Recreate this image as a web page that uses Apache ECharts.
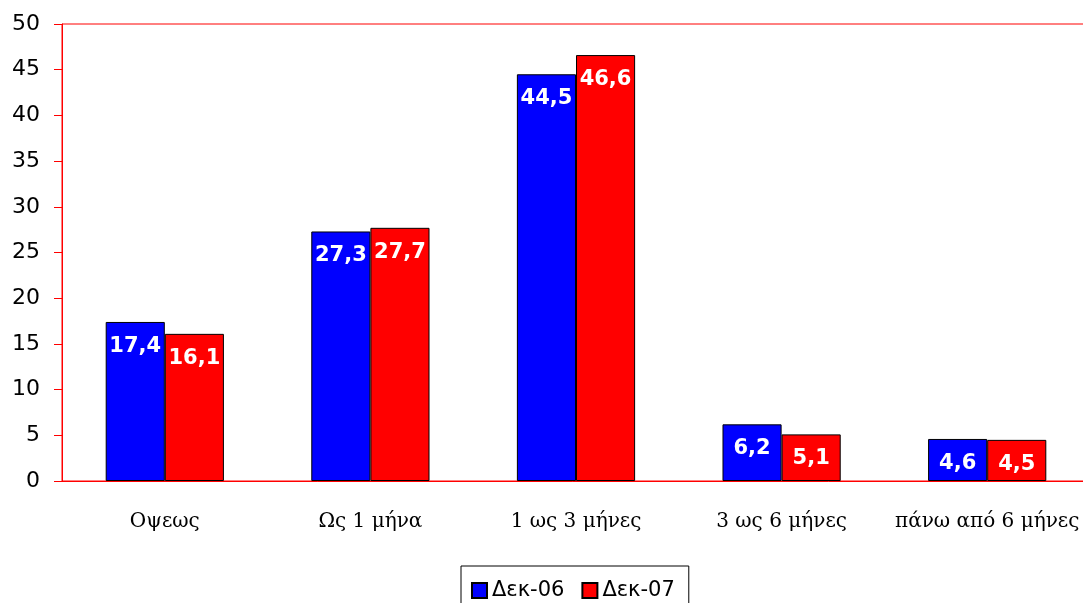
<!DOCTYPE html>
<html><head><meta charset="utf-8">
<script src="https://cdn.jsdelivr.net/npm/echarts@6/dist/echarts.min.js"></script>
<style>html,body{margin:0;padding:0;background:#fff;overflow:hidden}#c{width:1083px;height:603px}</style>
</head><body><div id="c"></div>
<script>
const categories = ['Οψεως', 'Ως 1 μήνα', '1 ως 3 μήνες', '3 ως 6 μήνες', 'πάνω από 6 μήνες'];
const dec06 = [17.4, 27.3, 44.5, 6.2, 4.6];
const dec07 = [16.1, 27.7, 46.6, 5.1, 4.5];
const seriesNames = ['Δεκ-06', 'Δεκ-07'];

const chart = echarts.init(document.getElementById('c'));
const lbl = {
  show: true, position: 'insideTop', distance: 14, color: '#fff', fontWeight: 'bold',
  fontSize: 21, fontFamily: 'DejaVu Sans',
  formatter: p => String(p.value).replace('.', ',')
};
chart.setOption({
  animation: false,
  grid: { left: 62, top: 24, width: 1028, bottom: 122, outerBoundsMode: 'none', containLabel: false,
          show: true, borderColor: '#ff0000', borderWidth: 1 },
  legend: {
    top: 566, left: 461, itemWidth: 15, itemHeight: 15, itemGap: 17,
    icon: 'rect',
    borderColor: '#000', borderWidth: 1, padding: [14, 14, 14, 10],
    textStyle: { fontFamily: 'DejaVu Sans', fontSize: 21, color: '#000' },
    data: seriesNames
  },
  xAxis: {
    type: 'category', data: categories,
    axisLine: { lineStyle: { color: '#ff0000' } },
    axisTick: { lineStyle: { color: '#ff0000' }, length: 8 },
    axisLabel: { color: '#000', fontFamily: 'DejaVu Serif', fontSize: 20, margin: 31, interval: 0, hideOverlap: false }
  },
  yAxis: {
    type: 'value', min: 0, max: 50, interval: 5,
    axisLine: { show: true, lineStyle: { color: '#ff0000' } },
    axisTick: { show: true, lineStyle: { color: '#ff0000' }, length: 8 },
    splitLine: { show: false },
    axisLabel: { color: '#000', fontFamily: 'DejaVu Sans', fontSize: 22, margin: 22 }
  },
  series: [
    { name: seriesNames[0], type: 'bar', data: dec06, barGap: '0%', barCategoryGap: '42.5%',
      itemStyle: { color: '#0000ff', borderColor: '#000', borderWidth: 1 }, label: lbl },
    { name: seriesNames[1], type: 'bar', data: dec07,
      itemStyle: { color: '#ff0000', borderColor: '#000', borderWidth: 1 }, label: lbl }
  ]
});
</script></body></html>
